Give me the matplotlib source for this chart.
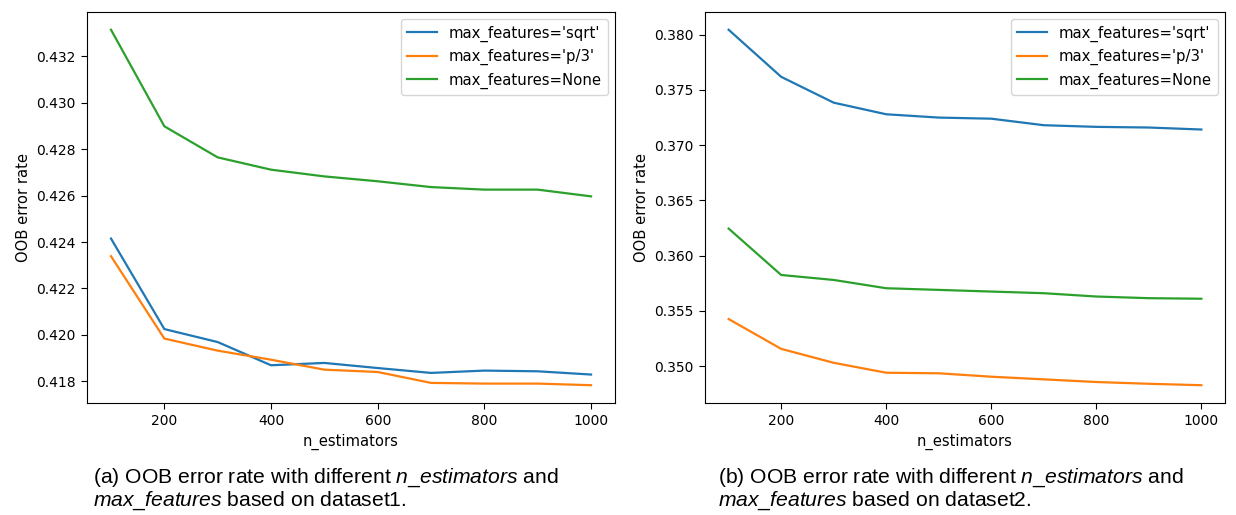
import numpy as np
import matplotlib
matplotlib.use("Agg")
import matplotlib.pyplot as plt

# n_estimators values
n_estimators = [100, 200, 300, 400, 500, 600, 700, 800, 900, 1000]

# dataset1 OOB error rates
d1_sqrt = [0.42415, 0.42025, 0.41969, 0.41869, 0.41879, 0.41857, 0.41836, 0.41846, 0.41843, 0.41829]
d1_p3 = [0.42339, 0.41984, 0.41932, 0.41893, 0.41850, 0.41840, 0.41793, 0.41790, 0.41790, 0.41783]
d1_none = [0.43315, 0.42899, 0.42765, 0.42712, 0.42683, 0.42662, 0.42637, 0.42626, 0.42626, 0.42597]

# dataset2 OOB error rates
d2_sqrt = [0.38045, 0.37619, 0.37385, 0.37280, 0.37250, 0.37240, 0.37181, 0.37166, 0.37160, 0.37142]
d2_p3 = [0.35426, 0.35156, 0.35030, 0.34940, 0.34935, 0.34904, 0.34880, 0.34856, 0.34840, 0.34827]
d2_none = [0.36245, 0.35825, 0.35780, 0.35705, 0.35690, 0.35675, 0.35660, 0.35630, 0.35615, 0.35610]

labels = ["max_features='sqrt'", "max_features='p/3'", "max_features=None"]
captions = [
    ("(a) OOB error rate with different $\\mathit{n\\_estimators}$ and",
     "$\\mathit{max\\_features}$ based on dataset1."),
    ("(b) OOB error rate with different $\\mathit{n\\_estimators}$ and",
     "$\\mathit{max\\_features}$ based on dataset2."),
]

plt.rcParams['mathtext.fontset'] = 'custom'
plt.rcParams['mathtext.it'] = 'Liberation Sans:italic'
plt.rcParams['mathtext.rm'] = 'Liberation Sans'

fig = plt.figure(figsize=(12.36, 5.15), dpi=100)
ax1 = fig.add_axes([0.0704, 0.2175, 0.4272, 0.7592])
ax2 = fig.add_axes([0.5704, 0.2175, 0.4207, 0.7592])

for ax, series in [(ax1, (d1_sqrt, d1_p3, d1_none)), (ax2, (d2_sqrt, d2_p3, d2_none))]:
    for ys, lab in zip(series, labels):
        ax.plot(n_estimators, ys, label=lab, linewidth=1.6)
    ax.set_xlabel('n_estimators', fontsize=10.6)
    ax.set_ylabel('OOB error rate', fontsize=10.6)
    ax.tick_params(labelsize=10, length=4.5)
    ax.set_xticks([200, 400, 600, 800, 1000])
    ax.legend(loc='upper right', fontsize=10.7)

ax1.set_yticks([0.418, 0.420, 0.422, 0.424, 0.426, 0.428, 0.430, 0.432])
ax2.set_yticks([0.350, 0.355, 0.360, 0.365, 0.370, 0.375, 0.380])
ax1.yaxis.set_major_formatter(matplotlib.ticker.FormatStrFormatter('%.3f'))
ax2.yaxis.set_major_formatter(matplotlib.ticker.FormatStrFormatter('%.3f'))

for xpos, (l1, l2) in zip([93 / 1236, 718 / 1236], captions):
    fig.text(xpos, 1 - 478 / 515, l1, fontsize=15.2, family='Liberation Sans', va='center')
    fig.text(xpos, 1 - 501 / 515, l2, fontsize=15.2, family='Liberation Sans', va='center')

fig.savefig('out.png', dpi=100)
